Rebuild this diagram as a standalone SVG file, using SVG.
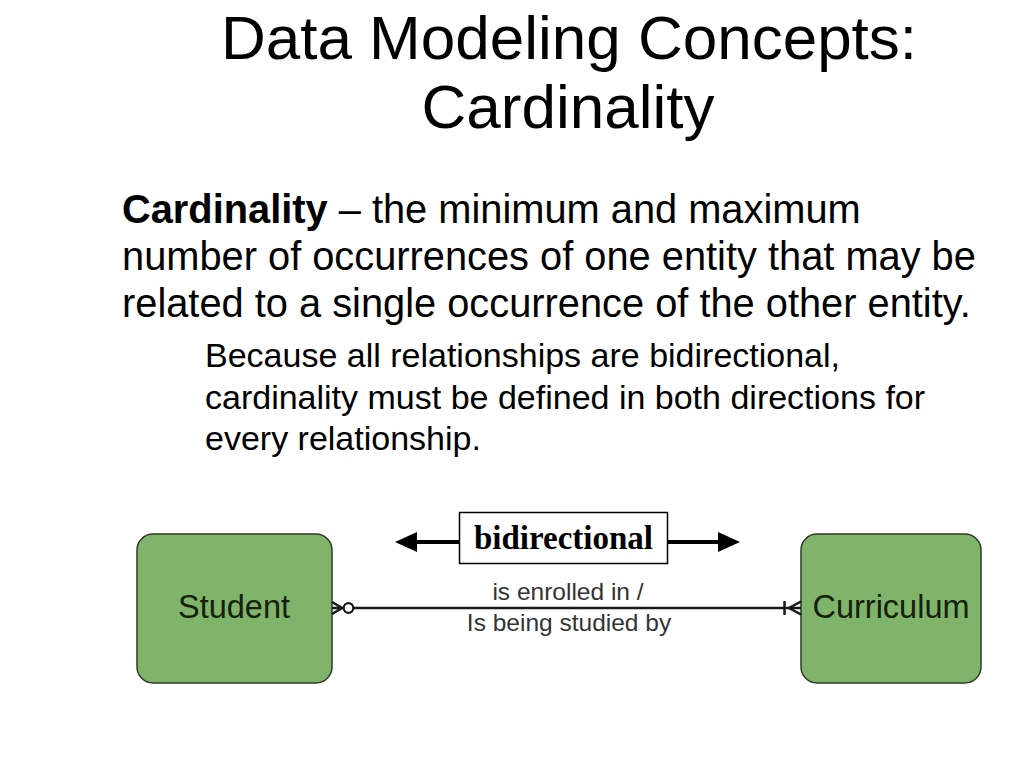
<svg xmlns="http://www.w3.org/2000/svg" width="1024" height="768" viewBox="0 0 1024 768">
<defs>
<style>
.sans{font-family:"Liberation Sans",Arial,sans-serif;fill:#000}
.title{font-size:62px;text-anchor:middle}
.body{font-size:39.8px}
.sub{font-size:34px}
.ent{fill:#80b46b;stroke:#2f3a2a;stroke-width:1.5}
.entText{font-family:"Liberation Sans",Arial,sans-serif;font-size:32.5px;fill:#15200e;text-anchor:middle}
.rel{font-family:"Liberation Sans",Arial,sans-serif;font-size:24.5px;fill:#333;text-anchor:middle}
.conn{stroke:#1a1a1a;stroke-width:2.5;fill:none}
.arrow{stroke:#000;stroke-width:4;fill:none}
</style>
<marker id="ah" viewBox="0 0 22 20" refX="2" refY="10" markerWidth="22" markerHeight="20" markerUnits="userSpaceOnUse" orient="auto">
<path d="M0,0 L22,10 L0,20 z" fill="#000"/>
</marker>
</defs>
<rect width="1024" height="768" fill="#fff"/>
<g id="title">
<text class="sans title" x="569" y="59">Data Modeling Concepts:</text>
<text class="sans title" x="568" y="128">Cardinality</text>
</g>
<g id="definition">
<text class="sans body" x="122" y="223"><tspan font-weight="bold">Cardinality</tspan> – the minimum and maximum</text>
<text class="sans body" x="122" y="270">number of occurrences of one entity that may be</text>
<text class="sans body" x="122" y="317">related to a single occurrence of the other entity.</text>
</g>
<g id="note">
<text class="sans sub" x="205" y="367">Because all relationships are bidirectional,</text>
<text class="sans sub" x="205" y="409">cardinality must be defined in both directions for</text>
<text class="sans sub" x="205" y="450">every relationship.</text>
</g>
<g id="bidirectional">
<line class="arrow" x1="459" y1="542" x2="415" y2="542" marker-end="url(#ah)"/>
<line class="arrow" x1="668" y1="542" x2="720" y2="542" marker-end="url(#ah)"/>
<rect x="459.5" y="512.5" width="208" height="51" fill="#fff" stroke="#000" stroke-width="1.5"/>
<text x="563.5" y="549" font-family="'Liberation Serif','Times New Roman',serif" font-weight="bold" font-size="33" text-anchor="middle" fill="#000">bidirectional</text>
</g>
<g id="student">
<rect class="ent" x="137" y="534" width="195" height="149" rx="16"/>
<text class="entText" x="234" y="618">Student</text>
</g>
<g id="curriculum">
<rect class="ent" x="801" y="534" width="180" height="149" rx="16"/>
<text class="entText" x="891" y="618">Curriculum</text>
</g>
<g id="connectors">
<line class="conn" x1="332" y1="608" x2="801" y2="608"/>
<path class="conn" d="M332,602 L342,608 L332,614"/>
<circle cx="348.5" cy="608" r="4.8" fill="#fff" stroke="#1a1a1a" stroke-width="2.2"/>
<path class="conn" d="M784.5,601 L784.5,615"/>
<path class="conn" d="M801,601.5 L789,608 L801,614.5"/>
<text class="rel" x="568" y="600">is enrolled in /</text>
<text class="rel" x="569" y="631">Is being studied by</text>
</g>
</svg>
